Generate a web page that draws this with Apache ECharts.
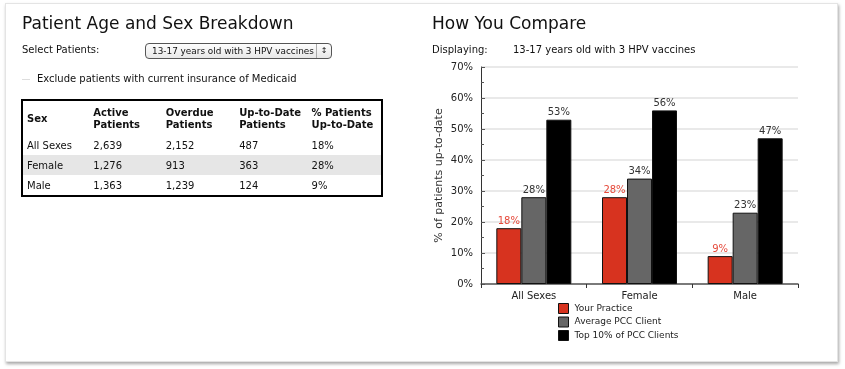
<!DOCTYPE html>
<html><head><meta charset="utf-8">
<script src="https://cdn.jsdelivr.net/npm/echarts@6/dist/echarts.min.js"></script>
<style>
html,body{margin:0;padding:0;background:#fff;width:845px;height:369px;overflow:hidden;font-family:"DejaVu Sans",Verdana,sans-serif;}
#panel{position:absolute;left:5px;top:3px;width:831px;height:357px;background:#fff;border:1px solid #e4e4e4;box-shadow:1px 2px 3px rgba(0,0,0,0.35);}
#chart{position:absolute;left:0;top:0;width:845px;height:369px;}
.t{position:absolute;color:#111;white-space:nowrap;}
.h{font-size:17px;}
.s{font-size:10px;}
#sel{position:absolute;left:145px;top:43px;width:187px;height:16px;border:1px solid #555;border-radius:4px;background:linear-gradient(#fdfdfd,#e8e8e8);font-size:8.9px;line-height:14px;box-sizing:border-box;padding-left:6px;white-space:nowrap;overflow:hidden;color:#111;}
#sel .ar{position:absolute;right:0;top:0;width:14px;height:14px;border-left:1px solid #aaa;font-size:8px;text-align:center;line-height:14px;}
#tbl{position:absolute;left:21px;top:99px;width:362px;border:2px solid #000;border-collapse:collapse;font-size:10px;box-sizing:border-box;table-layout:fixed;}
#tbl td{padding:0 0 0 4px;height:20px;vertical-align:middle;color:#111;white-space:nowrap;overflow:hidden;}
#tbl tr.hd td{font-weight:bold;height:33px;line-height:12px;padding-top:1px;}
#tbl tr.g td{background:#e6e6e6;}
</style></head><body>
<div id="panel"></div>
<div id="chart"></div>
<div class="t h" style="left:22px;top:13px;">Patient Age and Sex Breakdown</div>
<div class="t s" style="left:22px;top:44px;">Select Patients:</div>
<div id="sel">13-17 years old with 3 HPV vaccines<span class="ar"></span></div>
<div class="t" style="left:22px;top:79px;width:8px;height:1px;background:#ddd;"></div>
<div class="t s" style="left:37px;top:73px;">Exclude patients with current insurance of Medicaid</div>
<table id="tbl"></table>
<div class="t h" style="left:432px;top:13px;">How You Compare</div>
<div class="t s" style="left:432px;top:44px;">Displaying:</div>
<div class="t s" style="left:513px;top:44px;">13-17 years old with 3 HPV vaccines</div>
<script>
const categories = ['All Sexes','Female','Male'];
const yourPractice = [18,28,9];
const avgClient = [28,34,23];
const top10 = [53,56,47];
const yTicks = [0,10,20,30,40,50,60,70];
const tableHeader = ['Sex','Active<br>Patients','Overdue<br>Patients','Up-to-Date<br>Patients','% Patients<br>Up-to-Date'];
const tableSex = ['All Sexes','Female','Male'];
const tableActive = ['2,639','1,276','1,363'];
const tableOverdue = ['2,152','913','1,239'];
const tableUpToDate = ['487','363','124'];
const tablePct = ['18%','28%','9%'];

document.querySelector('#sel .ar').innerHTML='&#8597;';
const widths=[67,72,73,72,74];
let html='<colgroup>'+widths.map(w=>'<col style="width:'+w+'px">').join('')+'</colgroup>';
html+='<tr class="hd">'+tableHeader.map(h=>'<td>'+h+'</td>').join('')+'</tr>';
tableSex.forEach((s,i)=>{
  html+='<tr'+(i===1?' class="g"':'')+'><td>'+s+'</td><td>'+tableActive[i]+'</td><td>'+tableOverdue[i]+'</td><td>'+tableUpToDate[i]+'</td><td>'+tablePct[i]+'</td></tr>';
});
document.getElementById('tbl').innerHTML=html;

const chart = echarts.init(document.getElementById('chart'));
const font = '"DejaVu Sans",Verdana,sans-serif';
function mk(name,data,color,lblColor){
  return {name,type:'bar',data,barWidth:25,barGap:'0%',
    itemStyle:{color,borderColor:'#111',borderWidth:1},
    label:{show:true,position:'top',distance:2,formatter:'{c}%',fontSize:10,fontFamily:font,color:lblColor}};
}
chart.setOption({
  animation:false,
  textStyle:{fontFamily:font},
  grid:{left:481,top:67,width:317,height:217,containLabel:false},
  xAxis:{type:'category',data:categories,
    axisLine:{lineStyle:{color:'#555',width:1.5}},
    axisTick:{show:true,length:4,lineStyle:{color:'#333'}},
    axisLabel:{fontSize:10,color:'#222',margin:7,fontFamily:font}},
  yAxis:{type:'value',min:yTicks[0],max:yTicks[yTicks.length-1],interval:10,
    name:'% of patients up-to-date',nameLocation:'middle',nameGap:36,nameRotate:90,
    nameTextStyle:{fontSize:11,color:'#333',fontFamily:font},
    axisLine:{show:true,lineStyle:{color:'#333'}},
    axisTick:{show:true,inside:true,length:4,lineStyle:{color:'#555'}},
    minorTick:{show:true,splitNumber:2,length:3,lineStyle:{color:'#555'}},
    splitLine:{lineStyle:{color:'#e2e2e2',width:1.5}},
    axisLabel:{formatter:'{value}%',fontSize:10,color:'#222',margin:8,fontFamily:font}},
  legend:{orient:'vertical',left:558,top:303,padding:0,itemWidth:10,itemHeight:10,itemGap:2.5,
    icon:'rect',
    itemStyle:{borderColor:'#111',borderWidth:1},
    textStyle:{fontSize:9,lineHeight:10,color:'#222',fontFamily:font,padding:[0,0,0,1]},
    data:['Your Practice','Average PCC Client','Top 10% of PCC Clients']},
  series:[
    mk('Your Practice',yourPractice,'#d7331f','#e5493a'),
    mk('Average PCC Client',avgClient,'#666666','#333'),
    mk('Top 10% of PCC Clients',top10,'#000000','#333')
  ]
});
</script>
</body></html>
